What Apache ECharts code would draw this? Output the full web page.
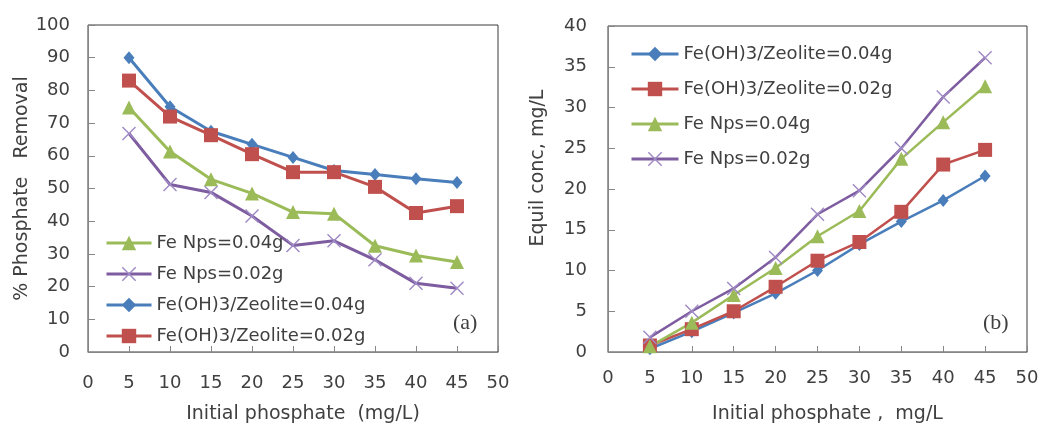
<!DOCTYPE html>
<html>
<head>
<meta charset="utf-8">
<script src="https://cdn.jsdelivr.net/npm/echarts@6/dist/echarts.min.js"></script>
<style>
html,body{margin:0;padding:0;background:#fff;}
#c{width:1040px;height:423px;}
</style>
</head>
<body>
<div id="c"></div>
<script>
// ---- data ----
var xValues = [5, 10, 15, 20, 25, 30, 35, 40, 45];
var xTicks = [0, 5, 10, 15, 20, 25, 30, 35, 40, 45, 50];

// Panel (a): % Phosphate removal
var removalZeolite004 = [90, 75, 67.5, 63.5, 59.5, 55.5, 54.3, 53, 51.8];
var removalZeolite002 = [83, 72, 66.3, 60.5, 55, 55, 50.5, 42.5, 44.6];
var removalNps004 = [74.8, 61.3, 52.8, 48.5, 42.8, 42.3, 32.5, 29.5, 27.5];
var removalNps002 = [66.8, 51.2, 48.8, 41.6, 32.6, 34, 28.2, 21, 19.5];

// Panel (b): Equilibrium concentration, mg/L
var equilZeolite004 = [0.4, 2.5, 4.8, 7.2, 10, 13.2, 16, 18.6, 21.6];
var equilZeolite002 = [0.8, 2.8, 5, 8, 11.2, 13.5, 17.2, 23, 24.8];
var equilNps004 = [0.7, 3.6, 7, 10.3, 14.2, 17.3, 23.7, 28.2, 32.6];
var equilNps002 = [1.8, 5, 7.8, 11.6, 16.9, 19.8, 25, 31.3, 36.1];

var names = {
  z4: 'Fe(OH)3/Zeolite=0.04g',
  z2: 'Fe(OH)3/Zeolite=0.02g',
  n4: 'Fe Nps=0.04g',
  n2: 'Fe Nps=0.02g'
};

var colors = { z4: '#4A7EBB', z2: '#C0504D', n4: '#9BBB59', n2: '#7E5CA0' };
var crossPath = 'path://M0,1L1,0L7,6L13,0L14,1L8,7L14,13L13,14L7,8L1,14L0,13L6,7Z';
var symbols = {
  z4: { symbol: 'diamond', size: [11, 13] },
  z2: { symbol: 'rect', size: 14 },
  n4: { symbol: 'triangle', size: 14 },
  n2: { symbol: crossPath, size: 14 }
};

function pairs(vals) {
  return xValues.map(function (x, i) { return [x, vals[i]]; });
}

function mkSeries(key, vals, gi, lw) {
  return {
    type: 'line',
    name: names[key],
    xAxisIndex: gi,
    yAxisIndex: gi,
    data: pairs(vals),
    symbol: symbols[key].symbol,
    symbolSize: symbols[key].size,
    symbolKeepAspect: true,
    showAllSymbol: true,
    lineStyle: { color: colors[key], width: lw },
    itemStyle: { color: key === 'n2' ? '#9F8AC4' : colors[key], opacity: 1 },
    emphasis: { disabled: true },
    animation: false
  };
}

var font = 'DejaVu Sans';
var txt = '#404040';

function xAxis(gi, name, labelMargin) {
  return {
    type: 'value', gridIndex: gi, min: 0, max: 50, interval: 5,
    name: name, nameLocation: 'middle', nameGap: 53,
    nameTextStyle: { fontFamily: font, fontSize: 19, color: txt, padding: [0, 0, 0, 20] },
    axisLine: { show: true, lineStyle: { color: '#868686', width: 1 } },
    axisTick: { show: true, inside: true, length: 6, lineStyle: { color: '#868686' } },
    axisLabel: { fontFamily: font, fontSize: 18, color: txt, margin: labelMargin },
    splitLine: { show: false }
  };
}
function yAxis(gi, name, max, interval, gap, labelMargin, pad) {
  return {
    type: 'value', gridIndex: gi, min: 0, max: max, interval: interval,
    name: name, nameLocation: 'middle', nameGap: gap,
    nameTextStyle: { fontFamily: font, fontSize: 19, color: txt, padding: pad },
    axisLine: { show: true, lineStyle: { color: '#868686', width: 1 } },
    axisTick: { show: true, inside: true, length: 7, lineStyle: { color: '#868686' } },
    axisLabel: { fontFamily: font, fontSize: 18, color: txt, margin: labelMargin },
    splitLine: { show: false }
  };
}

var chart = echarts.init(document.getElementById('c'), null, { renderer: 'canvas' });
chart.setOption({
  backgroundColor: '#ffffff',
  animation: false,
  grid: [
    { left: 88, top: 25, width: 410, height: 327, show: true, borderColor: '#3a3a3a', borderWidth: 1, backgroundColor: 'transparent', outerBoundsMode: 'none' },
    { left: 608, top: 26, width: 419, height: 326, show: true, borderColor: '#3a3a3a', borderWidth: 1, backgroundColor: 'transparent', outerBoundsMode: 'none' }
  ],
  xAxis: [
    xAxis(0, 'Initial phosphate  (mg/L)', 22),
    xAxis(1, 'Initial phosphate ,  mg/L', 17)
  ],
  yAxis: [
    yAxis(0, '% Phosphate   Removal', 100, 10, 54, 18, [0, 0, 0, 0]),
    yAxis(1, 'Equil conc, mg/L', 40, 5, 60, 21, [0, 0, 0, 42])
  ],
  legend: [
    {
      orient: 'vertical', left: 105, top: 234, padding: 0, itemWidth: 45, itemHeight: 18, itemGap: 13,
      data: [names.n4, names.n2, names.z4, names.z2],
      lineStyle: { width: 3 },
      textStyle: { fontFamily: font, fontSize: 18, color: txt },
      selectedMode: false
    },
    {
      orient: 'vertical', left: 630, top: 45, padding: 0, itemWidth: 47, itemHeight: 18, itemGap: 17,
      data: [names.z4, names.z2, names.n4, names.n2],
      lineStyle: { width: 3 },
      textStyle: { fontFamily: font, fontSize: 18, color: txt },
      selectedMode: false
    }
  ],
  graphic: [
    { type: 'text', left: 453, top: 312, style: { text: '(a)', font: '22px "Liberation Serif"', fill: '#404040' } },
    { type: 'text', left: 983, top: 312, style: { text: '(b)', font: '22px "Liberation Serif"', fill: '#404040' } }
  ],
  series: [
    mkSeries('n4', removalNps004, 0, 3),
    mkSeries('n2', removalNps002, 0, 3),
    mkSeries('z4', removalZeolite004, 0, 3),
    mkSeries('z2', removalZeolite002, 0, 3),
    mkSeries('z4', equilZeolite004, 1, 2.5),
    mkSeries('z2', equilZeolite002, 1, 2.5),
    mkSeries('n4', equilNps004, 1, 2.5),
    mkSeries('n2', equilNps002, 1, 2.5)
  ]
});
</script>
</body>
</html>
